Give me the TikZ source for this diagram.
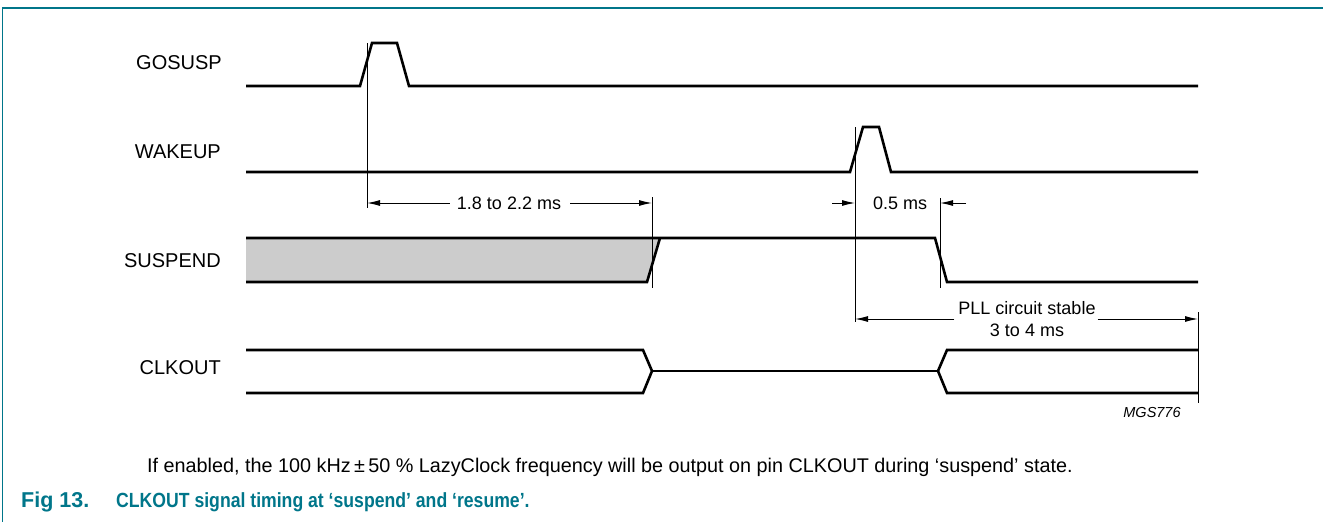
\documentclass[tikz,border=0pt]{standalone}
\usepackage{fontspec}
\setmainfont{Liberation Sans}
\newfontfamily\narrowcap[FakeStretch=0.86]{Liberation Sans}
\usetikzlibrary{arrows.meta}
\definecolor{teal1}{RGB}{0,118,138}
\definecolor{fillgray}{RGB}{204,204,204}
\begin{document}
\begin{tikzpicture}[x=1pt,y=-1pt,
  sig/.style={line width=2.6pt,line join=miter},
  refl/.style={line width=0.9pt},
  dimarrow/.style={line width=1pt,-{Latex[length=13pt,width=6pt]}},
  lbl/.style={anchor=east,inner sep=0pt,font=\fontsize{20}{22}\selectfont},
  dimtxt/.style={inner sep=0pt,font=\fontsize{18}{22}\selectfont},
  frameline/.style={draw=teal1,line width=1.5pt}]
\useasboundingbox (0,0) rectangle (1323,522);
\draw[frameline] (2.5,522) -- (2.5,8) -- (1323,8);

% signal labels
\node[lbl] (lgosusp) at (222,63) {GOSUSP};
\node[lbl] (lwakeup) at (221,152) {WAKEUP};
\node[lbl] (lsuspend) at (221,261) {SUSPEND};
\node[lbl] (lclkout) at (221,368) {CLKOUT};

% GOSUSP
\draw[sig] (246,86) -- (360,86) -- (372,43) -- (397,43) -- (409,86) -- (1198,86);
% WAKEUP
\draw[sig] (246,172) -- (850,172) -- (863,127) -- (879,127) -- (891,172) -- (1198,172);
% SUSPEND
\fill[fillgray] (246,238) -- (660,238) -- (647,282) -- (246,282) -- cycle;
\draw[sig] (246,238) -- (935,238) -- (947,282) -- (1198,282);
\draw[sig] (246,282) -- (647,282) -- (660,238);
% CLKOUT
\draw[sig] (246,350) -- (643,350) -- (652,371) -- (643,393) -- (246,393);
\draw[sig] (652,371) -- (938,371);
\draw[sig] (1198,350) -- (947,350) -- (938,371) -- (947,393) -- (1198,393);

% reference lines
\coordinate (r1t) at (367,43);  \coordinate (r1b) at (367,208);
\coordinate (r2t) at (652,197); \coordinate (r2b) at (652,288);
\coordinate (r3t) at (855,127); \coordinate (r3b) at (855,322);
\coordinate (r4t) at (940,198); \coordinate (r4b) at (940,288);
\coordinate (r5t) at (1198,312); \coordinate (r5b) at (1198,403);
\draw[refl] (r1t) -- (r1b);
\draw[refl] (r2t) -- (r2b);
\draw[refl] (r3t) -- (r3b);
\draw[refl] (r4t) -- (r4b);
\draw[refl] (r5t) -- (r5b);

% 1.8 to 2.2 ms
\node[dimtxt] (d1) at (509,203) {1.8 to 2.2 ms};
\coordinate (a1) at (367,203); \coordinate (a2) at (652,203);
\draw[dimarrow] ([xshift=-7pt]d1.west) -- (a1);
\draw[dimarrow] ([xshift=9pt]d1.east) -- (a2);

% 0.5 ms
\node[dimtxt] (d2) at (900,203) {0.5 ms};
\coordinate (b0) at (832,203); \coordinate (b1) at (855,203);
\coordinate (b2) at (940,203); \coordinate (b3) at (966,203);
\draw[dimarrow] (b0) -- (b1);
\draw[dimarrow] (b3) -- (b2);

% PLL circuit stable
\node[dimtxt,align=center] (d3) at (1027,319) {PLL circuit stable\\3 to 4 ms};
\coordinate (c1) at (855,319); \coordinate (c2) at (1198,319);
\draw[dimarrow] ([xshift=-4pt]d3.west) -- (c1);
\draw[dimarrow] ([xshift=2pt]d3.east) -- (c2);

\node[inner sep=0pt,font=\fontsize{14.5}{16}\selectfont\itshape] (mgs) at (1152,413) {MGS776};

\node[anchor=west,inner sep=0pt,font=\fontsize{19.8}{22}\selectfont] (note) at (147,467)
  {If enabled, the 100 kHz\,±\,50 \% LazyClock frequency will be output on pin CLKOUT during ‘suspend’ state.};
\node[anchor=base west,inner sep=0pt,text=teal1,font=\fontsize{21.5}{24}\selectfont\bfseries] (fignum) at (21,507)
  {Fig 13.};
\node[anchor=base west,inner sep=0pt,text=teal1,font=\fontsize{20.5}{24}\narrowcap\bfseries] (figtitle) at (116,507)
  {CLKOUT signal timing at ‘suspend’ and ‘resume’.};
\end{tikzpicture}
\end{document}
